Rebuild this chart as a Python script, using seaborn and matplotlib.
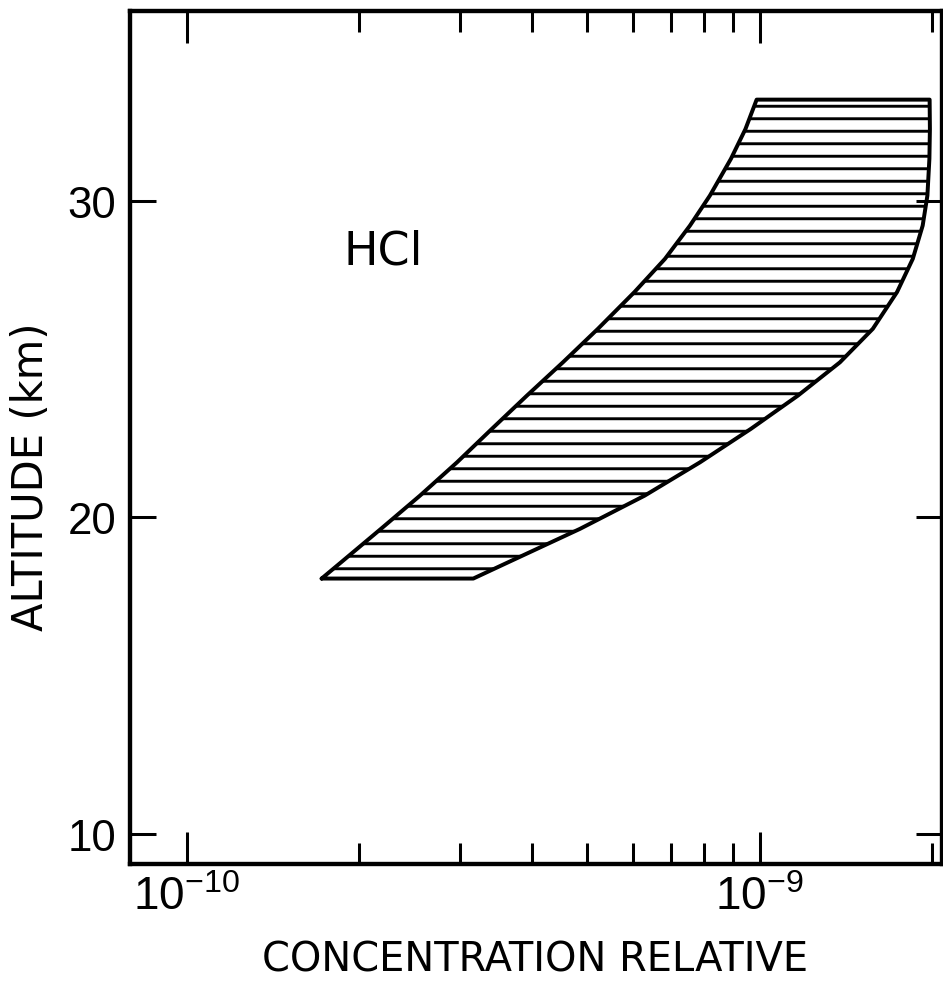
import numpy as np
import pandas as pd
import matplotlib
matplotlib.use("Agg")
import matplotlib.pyplot as plt
import seaborn as sns
from matplotlib.ticker import FixedLocator, NullFormatter, LogFormatterSciNotation

# ---------------- data ----------------
altitude_km = [18.07, 18.58, 19.64, 20.69, 21.74, 22.80, 23.85, 24.90,
               25.96, 27.12, 28.17, 29.22, 30.17, 31.33, 32.27, 33.20]
conc_low = [1.720e-10, 1.859e-10, 2.183e-10, 2.554e-10, 2.963e-10, 3.410e-10,
            3.925e-10, 4.535e-10, 5.221e-10, 6.046e-10, 6.836e-10, 7.557e-10,
            8.189e-10, 8.910e-10, 9.445e-10, 9.880e-10]
conc_high = [3.164e-10, 3.636e-10, 4.858e-10, 6.300e-10, 7.866e-10, 9.656e-10,
             1.1664e-9, 1.3806e-9, 1.5760e-9, 1.7369e-9, 1.8504e-9, 1.9255e-9,
             1.9624e-9, 1.9782e-9, 1.9823e-9, 1.9800e-9]
x_major_ticks = [1e-10, 1e-9]
x_minor_ticks = [2e-10, 3e-10, 4e-10, 5e-10, 6e-10, 7e-10, 8e-10, 9e-10, 2e-9]
y_ticks = [10, 20, 30]
species_label = "HCl"
species_pos = (2.2e-10, 28.01)
xlabel_text = "CONCENTRATION RELATIVE"
ylabel_text = "ALTITUDE (km)"
xlim = (7.963e-11, 2.081e-9)
ylim = (9.052, 36.0)

# ---------------- style ----------------
sns.set_style("ticks")
DPI = 75
plt.rcParams["font.family"] = ["Liberation Sans", "DejaVu Sans"]
plt.rcParams["mathtext.fontset"] = "custom"
plt.rcParams["mathtext.rm"] = "Liberation Sans"
plt.rcParams["mathtext.it"] = "Liberation Sans"
plt.rcParams["mathtext.bf"] = "Liberation Sans"
plt.rcParams["hatch.linewidth"] = 2.8
plt.rcParams["hatch.color"] = "black"
plt.rcParams["axes.edgecolor"] = "black"
plt.rcParams["axes.labelcolor"] = "black"
plt.rcParams["text.color"] = "black"
plt.rcParams["xtick.color"] = "black"
plt.rcParams["ytick.color"] = "black"

fig = plt.figure(figsize=(943 / DPI, 984 / DPI), dpi=DPI, facecolor="white")
ax = fig.add_axes([130 / 943, (984 - 865) / 984, (942 - 130) / 943, (865 - 12) / 984])
ax.set_facecolor("white")
ax.set_xscale("log")

# hatched band
ax.fill_betweenx(altitude_km, conc_low, conc_high, facecolor="none",
                 edgecolor="black", hatch="-", linewidth=0)

# outline of the band
conc_path = list(conc_low) + list(conc_high[::-1]) + [conc_low[0]]
alt_path = list(altitude_km) + list(altitude_km[::-1]) + [altitude_km[0]]
outline = pd.DataFrame({"conc": conc_path, "alt": alt_path})
sns.lineplot(data=outline, x="conc", y="alt", sort=False, estimator=None,
             color="black", linewidth=3.8, solid_joinstyle="round",
             solid_capstyle="round", ax=ax)

ax.set_xlim(*xlim)
ax.set_ylim(*ylim)

ax.xaxis.set_major_locator(FixedLocator(x_major_ticks))
ax.xaxis.set_major_formatter(LogFormatterSciNotation())
ax.xaxis.set_minor_locator(FixedLocator(x_minor_ticks))
ax.xaxis.set_minor_formatter(NullFormatter())
ax.yaxis.set_major_locator(FixedLocator(y_ticks))
ax.yaxis.set_minor_locator(FixedLocator([]))

ax.tick_params(axis="x", which="major", direction="in", length=30.7, width=2.9,
               top=True, bottom=True, pad=11, labelsize=44)
ax.tick_params(axis="x", which="minor", direction="in", length=19.7, width=2.9,
               top=True, bottom=True)
ax.tick_params(axis="y", which="major", direction="in", length=25, width=2.9,
               left=True, right=True, pad=13.4, labelsize=42)

for sp in ax.spines.values():
    sp.set_visible(True)
    sp.set_linewidth(4.2)
    sp.set_color("black")

ax.set_xlabel(xlabel_text, fontsize=38.4, family="DejaVu Sans", va="baseline")
ax.xaxis.set_label_coords((535 - 130) / 812, (865 - 972) / 853)
ax.set_ylabel(ylabel_text, fontsize=40, family="DejaVu Sans", va="baseline")
ax.yaxis.set_label_coords((43.3 - 130) / 812, (865 - 477) / 853)

ax.text(species_pos[0], species_pos[1], species_label, ha="center", va="baseline",
        fontsize=44, family="DejaVu Sans", color="black")

fig.savefig("out.png", dpi=DPI, facecolor="white")
